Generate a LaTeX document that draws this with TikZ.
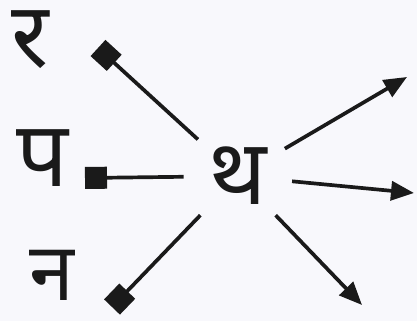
\documentclass[tikz,border=0pt]{standalone}
\usepackage{fontspec}
\newfontfamily\deva[Script=Devanagari]{Noto Sans}
\usetikzlibrary{arrows.meta, positioning}
\definecolor{cink}{HTML}{1A1A1A}
\definecolor{cpaper}{HTML}{F8F8FC}
\tikzset{
  every picture/.style={line width=2.1pt},
  glyph/.style={font=\deva\fontsize{52}{56}\selectfont, text=cink, inner sep=0pt, text depth=0pt},
  ray/.style={-{Triangle[length=4.6mm, width=3.8mm]}, draw=cink},
  block/.style={-{Square[length=4.4mm, width=4.4mm]}, draw=cink},
}

\begin{document}
\begin{tikzpicture}[x=1cm, y=1cm]
  \fill[cpaper] (0,0) rectangle (8.34,6.42);
  \useasboundingbox (0,0) rectangle (8.34,6.42);
  % letters
  \node[glyph, anchor=base west] (ra) at (0.20,5.06) {र};
  \node[glyph, anchor=base west] (pa) at (0.30,2.68) {प};
  \node[glyph, anchor=base west, font=\deva\fontsize{46}{50}\selectfont] (na) at (0.55,0.40) {न};
  \node[glyph, circle, minimum size=2.1cm, anchor=base] (tha) at (4.76,2.32) {थ};
  % free ends of the rays
  \coordinate (ul) at (1.96,5.46);
  \coordinate (l)  at (1.70,2.86);
  \coordinate (ll) at (2.24,0.28);
  \coordinate (ur) at (8.14,4.88);
  \coordinate (r)  at (8.28,2.56);
  \coordinate (lr) at (7.24,0.32);
  \foreach \e in {ul, l, ll} \draw[block] (tha) -- (\e);
  \foreach \e in {ur, r, lr} \draw[ray] (tha) -- (\e);
\end{tikzpicture}
\end{document}
